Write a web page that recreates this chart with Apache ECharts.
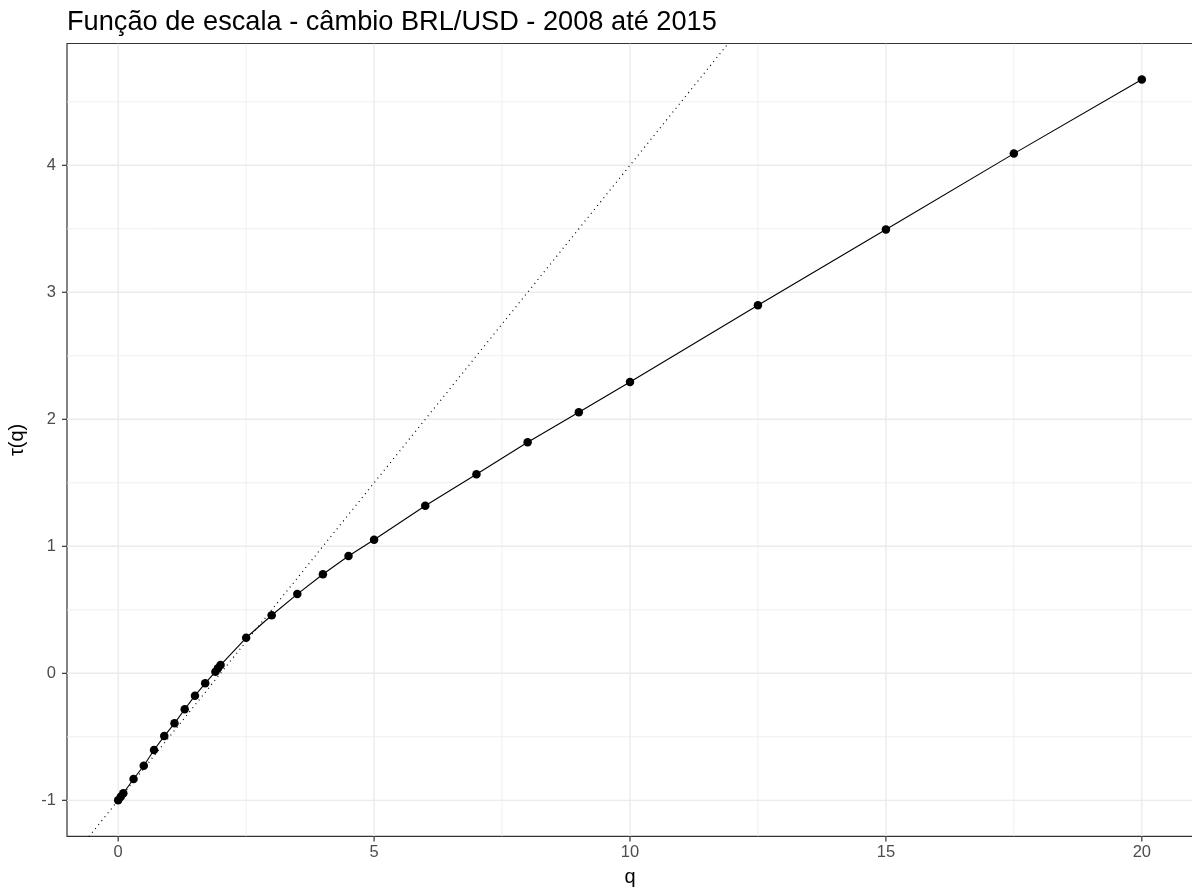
<!DOCTYPE html>
<html>
<head>
<meta charset="utf-8">
<title>Função de escala</title>
<script src="https://cdn.jsdelivr.net/npm/echarts@6/dist/echarts.min.js"></script>
<style>
  html, body { margin: 0; padding: 0; background: #ffffff; }
  #chart { width: 1192px; height: 891px; }
</style>
</head>
<body>
<div id="chart"></div>
<script>
// Moments q and the estimated scaling function tau(q)
const qValues = [0, 0.05, 0.1, 0.3, 0.5, 0.7, 0.9, 1.1, 1.3, 1.5, 1.7, 1.9, 1.95, 2, 2.5, 3, 3.5, 4, 4.5, 5, 6, 7, 8, 9, 10, 12.5, 15, 17.5, 20];
const tauValues = [-1.0, -0.972, -0.944, -0.832, -0.728, -0.604, -0.494, -0.394, -0.283, -0.176, -0.079, 0.013, 0.04, 0.065, 0.280, 0.457, 0.624, 0.780, 0.924, 1.052, 1.320, 1.567, 1.819, 2.055, 2.294, 2.898, 3.494, 4.092, 4.675];

// Monofractal reference: tau(q) = slope * q + intercept
const refSlope = 0.5;
const refIntercept = -1;

// Axis extents and tick marks
const xRange = [-1, 21];
const yRange = [-1.284, 4.959];
const xTicks = [0, 5, 10, 15, 20];
const yTicks = [-1, 0, 1, 2, 3, 4];
const xMinorTicks = [2.5, 7.5, 12.5, 17.5];
const yMinorTicks = [-0.5, 0.5, 1.5, 2.5, 3.5, 4.5];

const FONT = '"Liberation Sans", Arial, sans-serif';
const TICK_LEN = 5;

const points = qValues.map((q, i) => [q, tauValues[i]]);
const refLine = xRange.map(q => [q, refSlope * q + refIntercept]);

// grid line records: [x, y, orientation (0 = vertical, 1 = horizontal), major flag]
const gridData = []
  .concat(xMinorTicks.map(v => [v, yRange[0], 0, 0]))
  .concat(yMinorTicks.map(v => [xRange[0], v, 1, 0]))
  .concat(xTicks.map(v => [v, yRange[0], 0, 1]))
  .concat(yTicks.map(v => [xRange[0], v, 1, 1]));

// tick mark records: [x, y, orientation (0 = on the q axis, 1 = on the tau axis)]
const tickData = []
  .concat(xTicks.map(v => [v, yRange[0], 0]))
  .concat(yTicks.map(v => [xRange[0], v, 1]));

function renderGridLine(params, api) {
  const vertical = api.value(2) === 0;
  const major = api.value(3) === 1;
  let p1, p2;
  if (vertical) {
    p1 = api.coord([api.value(0), yRange[0]]);
    p2 = api.coord([api.value(0), yRange[1]]);
  } else {
    p1 = api.coord([xRange[0], api.value(1)]);
    p2 = api.coord([xRange[1], api.value(1)]);
  }
  return {
    type: 'line',
    shape: { x1: p1[0], y1: p1[1], x2: p2[0], y2: p2[1] },
    style: { stroke: '#EBEBEB', lineWidth: major ? 1.4 : 0.8 },
    silent: true
  };
}

function renderTick(params, api) {
  const p = api.coord([api.value(0), api.value(1)]);
  const onX = api.value(2) === 0;
  const shape = onX
    ? { x1: p[0], y1: p[1], x2: p[0], y2: p[1] + TICK_LEN }
    : { x1: p[0], y1: p[1], x2: p[0] - TICK_LEN, y2: p[1] };
  return {
    type: 'line',
    shape: shape,
    style: { stroke: '#333333', lineWidth: 1.2 },
    silent: true
  };
}

const chart = echarts.init(document.getElementById('chart'), null, { renderer: 'canvas' });

chart.setOption({
  animation: false,
  backgroundColor: '#ffffff',
  textStyle: { fontFamily: FONT },
  title: {
    text: 'Função de escala - câmbio BRL/USD - 2008 até 2015',
    left: 62,
    top: 4,
    textStyle: { fontFamily: FONT, fontSize: 27.2, fontWeight: 'normal', color: '#000000' }
  },
  grid: {
    left: 67,
    right: -1,
    top: 43.5,
    bottom: 54.6,
    outerBoundsMode: 'none',
    show: true,
    borderColor: '#333333',
    borderWidth: 1.2,
    backgroundColor: '#ffffff'
  },
  xAxis: {
    type: 'value',
    min: xRange[0],
    max: xRange[1],
    name: 'q',
    nameLocation: 'middle',
    nameGap: 31,
    nameTextStyle: { fontFamily: FONT, fontSize: 20, color: '#000000' },
    axisLine: { show: false, onZero: false },
    axisTick: { show: false },
    axisLabel: { show: true, margin: 8, fontFamily: FONT, fontSize: 16.5, color: '#4D4D4D', customValues: xTicks },
    splitLine: { show: false }
  },
  yAxis: {
    type: 'value',
    min: yRange[0],
    max: yRange[1],
    name: 'τ(q)',
    nameLocation: 'middle',
    nameRotate: 90,
    nameGap: 40,
    nameTextStyle: { fontFamily: FONT, fontSize: 20, color: '#000000' },
    axisLine: { show: false, onZero: false },
    axisTick: { show: false },
    axisLabel: { show: true, margin: 11, fontFamily: FONT, fontSize: 16.5, color: '#4D4D4D', customValues: yTicks },
    splitLine: { show: false }
  },
  series: [
    {
      // background grid lines
      type: 'custom',
      data: gridData,
      encode: { x: 0, y: 1 },
      renderItem: renderGridLine,
      z: 0,
      silent: true,
      clip: true
    },
    {
      // axis tick marks outside the panel
      type: 'custom',
      data: tickData,
      encode: { x: 0, y: 1 },
      renderItem: renderTick,
      z: 5,
      silent: true,
      clip: false
    },
    {
      // dotted monofractal reference line
      type: 'line',
      data: refLine,
      z: 2,
      clip: true,
      showSymbol: false,
      symbol: 'none',
      lineStyle: { color: '#000000', width: 1.2, type: [1, 4] }
    },
    {
      type: 'line',
      data: points,
      z: 3,
      clip: true,
      symbol: 'circle',
      symbolSize: 8.5,
      showSymbol: true,
      itemStyle: { color: '#000000' },
      lineStyle: { color: '#000000', width: 1.1 }
    }
  ]
});
</script>
</body>
</html>
